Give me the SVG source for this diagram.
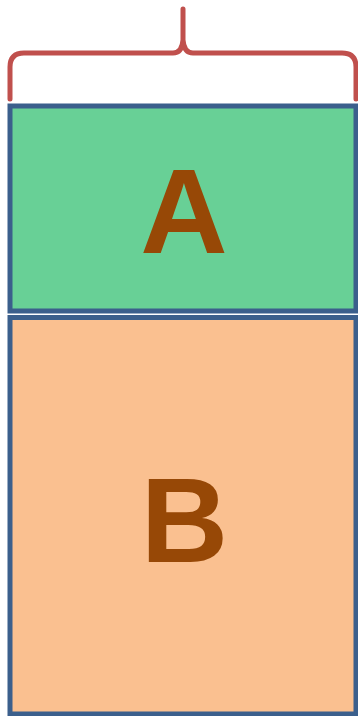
<svg xmlns="http://www.w3.org/2000/svg" width="358" height="716" viewBox="0 0 358 716">
<style>
.box{stroke:#3B5F8C;stroke-width:5}
.lbl{font-family:"Liberation Sans",Arial,sans-serif;font-weight:bold;font-size:121px;fill:#974806;text-anchor:middle}
.brace{fill:none;stroke:#C0504D;stroke-width:5;stroke-linecap:round;stroke-linejoin:round}
</style>
<rect width="358" height="716" fill="#ffffff"/>
<g id="connectors">
<path class="brace" d="M10,99 V67 Q10,53 24,53 H173 Q182,53 183,40 V9 M183,9 V40 Q184,53 193,53 H342 Q356,53 356,67 V99"/>
</g>
<g id="A">
<rect class="box" x="10" y="106" width="346" height="205" fill="#68D096"/>
<text class="lbl" x="184" y="253">A</text>
</g>
<g id="B">
<rect class="box" x="10" y="317.5" width="346" height="396.5" fill="#FAC090"/>
<text class="lbl" x="184.5" y="562">B</text>
</g>
</svg>
